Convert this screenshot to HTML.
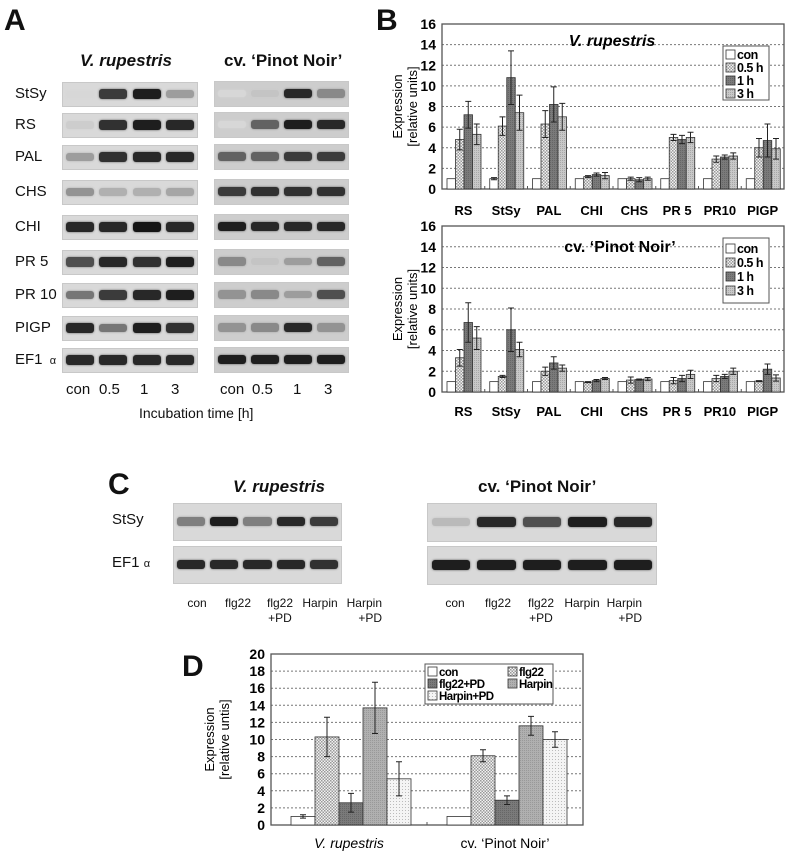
<!DOCTYPE html>
<html><head><meta charset="utf-8">
<style>
html,body{margin:0;padding:0;background:#fff;}
body{width:790px;height:856px;position:relative;overflow:hidden;font-family:"Liberation Sans",Arial,sans-serif;color:#111;}
.abs{position:absolute;}
.lbl{position:absolute;font-size:15px;}
.gel{position:absolute;background:#d9d9d9;border:1px solid #c8c8c8;}
.gel.dk{background:#cdcdcd;}
.band{position:absolute;height:6px;border-radius:3px;}
.panel{position:absolute;font-weight:bold;font-size:30px;}
.hdr{position:absolute;font-weight:bold;font-size:17px;}
</style></head>
<body>
<div class="panel" style="left:4px;top:4px;">A</div>
<div class="panel" style="left:376px;top:4px;">B</div>
<div class="panel" style="left:108px;top:468px;">C</div>
<div class="panel" style="left:182px;top:650px;">D</div>

<div class="hdr" style="left:80px;top:51px;font-style:italic;">V. rupestris</div>
<div class="hdr" style="left:224px;top:51px;">cv. ‘Pinot Noir’</div>
<div id="gelA"></div>
<div class="lbl" style="left:139px;top:405px;font-size:14px;">Incubation time [h]</div>

<div class="hdr" style="left:233px;top:477px;font-style:italic;">V. rupestris</div>
<div class="hdr" style="left:478px;top:477px;">cv. ‘Pinot Noir’</div>
<div id="gelC"></div>

<svg id="svg" class="abs" style="left:0;top:0;" width="790" height="856">
<defs>
<pattern id="pCheck" width="3" height="3" patternUnits="userSpaceOnUse"><rect width="3" height="3" fill="#f2f2f2"/><rect width="1.5" height="1.5" fill="#999"/><rect x="1.5" y="1.5" width="1.5" height="1.5" fill="#999"/></pattern>
<pattern id="pLight" width="2" height="2" patternUnits="userSpaceOnUse"><rect width="2" height="2" fill="#c8c8c8"/><rect width="1" height="1" fill="#a8a8a8"/></pattern>
<pattern id="pDark" width="2" height="2" patternUnits="userSpaceOnUse"><rect width="2" height="2" fill="#7a7a7a"/><rect width="1" height="1" fill="#666"/></pattern>
<pattern id="pMid" width="2" height="2" patternUnits="userSpaceOnUse"><rect width="2" height="2" fill="#b0b0b0"/><rect width="1" height="1" fill="#999"/></pattern>
<pattern id="pDots" width="3" height="3" patternUnits="userSpaceOnUse"><rect width="3" height="3" fill="#f4f4f4"/><rect width="1" height="1" fill="#bbb"/></pattern>
</defs>
</svg>

<script>
// ===== Panel B data =====
const genes = ["RS","StSy","PAL","CHI","CHS","PR 5","PR10","PIGP"];
const seriesB = ["con","0.5 h","1 h","3 h"];
const rupCon = [1,1,1,1,1,1,1,1];
const rup05 = [4.8,6.1,6.3,1.2,1.0,5.0,2.9,4.0];
const rup1 = [7.2,10.8,8.2,1.4,0.9,4.8,3.1,4.7];
const rup3 = [5.3,7.4,7.0,1.3,1.0,5.0,3.2,3.9];
const rupErrCon = [0,0.1,0,0,0,0,0,0];
const rupErr05 = [1.0,0.9,1.3,0.1,0.15,0.3,0.3,0.9];
const rupErr1 = [1.3,2.6,1.7,0.15,0.2,0.4,0.2,1.6];
const rupErr3 = [1.0,1.7,1.3,0.3,0.15,0.5,0.3,1.0];
const pinCon = [1,1,1,1,1,1,1,1];
const pin05 = [3.3,1.5,2.0,0.95,1.15,1.1,1.3,1.05];
const pin1 = [6.7,6.0,2.8,1.1,1.2,1.3,1.5,2.2];
const pin3 = [5.2,4.1,2.3,1.3,1.25,1.7,2.0,1.35];
const pinErrCon = [0,0,0,0,0,0,0,0];
const pinErr05 = [0.8,0.1,0.4,0.05,0.3,0.3,0.3,0.05];
const pinErr1 = [1.9,2.1,0.6,0.1,0.05,0.3,0.2,0.5];
const pinErr3 = [1.1,0.7,0.3,0.1,0.15,0.4,0.3,0.3];
const ticksB = [0,2,4,6,8,10,12,14,16];
// ===== Panel D data =====
const cultivars = ["V. rupestris","cv. ‘Pinot Noir’"];
const seriesD = ["con","flg22","flg22+PD","Harpin","Harpin+PD"];
const dCon = [1.0,1.0];
const dFlg = [10.3,8.1];
const dFlgPD = [2.6,2.9];
const dHarp = [13.7,11.6];
const dHarpPD = [5.4,10.0];
const dErrCon = [0.2,0];
const dErrFlg = [2.3,0.7];
const dErrFlgPD = [1.1,0.5];
const dErrHarp = [3.0,1.1];
const dErrHarpPD = [2.0,0.9];
const ticksD = [0,2,4,6,8,10,12,14,16,18,20];
// ===== Gel data (band intensities) =====
const gelGenes = ["StSy","RS","PAL","CHS","CHI","PR 5","PR 10","PIGP","EF1"];
const lanesA = ["con","0.5","1","3"];
const gelRup = [[0,0.8,0.95,0.3],[0.05,0.85,0.95,0.9],[0.3,0.85,0.9,0.9],[0.35,0.2,0.2,0.25],[0.9,0.9,1,0.9],[0.7,0.9,0.85,0.95],[0.5,0.8,0.9,0.95],[0.9,0.5,0.95,0.85],[0.9,0.9,0.9,0.9]];
const gelPin = [[0,0.1,0.9,0.4],[0,0.6,0.95,0.9],[0.6,0.6,0.8,0.8],[0.8,0.85,0.85,0.85],[0.95,0.9,0.9,0.9],[0.4,0.1,0.3,0.6],[0.35,0.4,0.3,0.7],[0.35,0.4,0.9,0.35],[0.95,0.95,0.95,0.95]];
const lanesC = ["con","flg22","flg22\n+PD","Harpin","Harpin\n+PD"];
const gelCRup = [[0.45,0.95,0.45,0.9,0.8],[0.9,0.9,0.9,0.9,0.85]];
const gelCPin = [[0.15,0.9,0.7,0.95,0.9],[0.95,0.95,0.95,0.95,0.95]];

const NS="http://www.w3.org/2000/svg";
const svg=document.getElementById('svg');
function mk(tag,attrs,parent){const e=document.createElementNS(NS,tag);for(const k in attrs)e.setAttribute(k,attrs[k]);(parent||svg).appendChild(e);return e;}
function txt(x,y,s,attrs){const t=mk('text',Object.assign({x:x,y:y,'font-family':'Liberation Sans, Arial, sans-serif'},attrs||{}));t.textContent=s;return t;}

// ---- gels ----
function bandColor(v){const g=Math.round(215-v*195);return 'rgb('+g+','+g+','+g+')';}
function gel(container,left,top,w,h,vals,dark,name){
  const d=document.createElement('div');d.className='gel'+(dark?' dk':'');
  d.style.left=left+'px';d.style.top=top+'px';d.style.width=w+'px';d.style.height=h+'px';
  
  
  const n=vals.length, lw=w/n;
  vals.forEach((v,i)=>{const b=document.createElement('div');b.className='band';
    b.style.left=(i*lw+lw*0.08)+'px';b.style.width=(lw*0.84)+'px';b.style.top=(h/2-4-v*1.5)+'px';b.style.height=(7+v*3)+'px';
    b.style.background=bandColor(v);b.style.boxShadow='0 0 2px '+bandColor(v*0.7);
    
    
    d.appendChild(b);});
  container.appendChild(d);
}
const gA=document.getElementById('gelA');
const rowTops=[82,113,145,180,215,250,283,316,348];
gelGenes.forEach((g,i)=>{
  const l=document.createElement('div');l.className='lbl';l.textContent=g==="EF1"?"EF1 ":g;
  if(g==="EF1"){const a=document.createElement('span');a.textContent='α';a.style.fontSize='11px';a.style.marginLeft='3px';l.appendChild(a);}
  l.style.left='15px';l.style.top=(rowTops[i]+3)+'px';
  
  
  gA.appendChild(l);
  gel(gA,62,rowTops[i],134,23,gelRup[i],false,'gel-rupestris-row');
  gel(gA,214,rowTops[i]-1,133,24,gelPin[i],true,'gel-pinot-row');
});
const laneXA=[78,111,144,175],laneXA2=[232,264,297,328];
lanesA.forEach((s,i)=>{[laneXA[i],laneXA2[i]].forEach(x=>{const l=document.createElement('div');l.className='lbl';l.textContent=s;l.style.left=(x-(s.length*4))+'px';l.style.top='381px';
  
  
  gA.appendChild(l);});});

const gC=document.getElementById('gelC');
[["StSy",503],["EF1",546]].forEach((r,i)=>{
  const l=document.createElement('div');l.className='lbl';l.textContent=r[0]==="EF1"?"EF1 ":r[0];
  if(r[0]==="EF1"){const a=document.createElement('span');a.textContent='α';a.style.fontSize='11px';l.appendChild(a);}
  l.style.left='112px';l.style.top=(r[1]+8)+'px';
  
  
  gC.appendChild(l);
  gel(gC,173,r[1],167,36,i===0?gelCRup[0]:gelCRup[1],false,'gel-c-rupestris');
  gel(gC,427,r[1],228,37,i===0?gelCPin[0]:gelCPin[1],false,'gel-c-pinot');
});
const laneC1=[197,238,280,320,362],laneC2=[455,498,541,582,622];
lanesC.forEach((s,i)=>{[laneC1[i],laneC2[i]].forEach(x=>{const l=document.createElement('div');l.className='lbl';l.style.fontSize='12px';l.style.lineHeight='15px';
  l.innerHTML=s.replace('\n','<br>');l.style.left=(x-20)+'px';l.style.width='40px';l.style.textAlign=i===4?'right':'center';l.style.top='596px';
  
  
  gC.appendChild(l);});});

// ---- bar chart function ----
function barChart(o){
  const {x0,x1,yTop,yBot,max,ticks,cats,series,errs,fills,barW,gap0,title,titleX,titleY,titleItalic,legendBox,legendItems,yTitleX,catY,name,catItalic}=o;
  const g=mk('g',{});
  const y=v=>yBot-(v/max)*(yBot-yTop);
  const groupW=(x1-x0)/cats.length;
  ticks.forEach(t=>{ if(t>0&&t<max){const l=mk('line',{x1:x0,x2:x1,y1:y(t),y2:y(t),stroke:'#777','stroke-width':1,'stroke-dasharray':'2,2'},g);}
    const tl=txt(x0-6,y(t)+5,String(t),{'font-size':14,'text-anchor':'end','font-weight':'bold'});g.appendChild(tl);
    });
  const fr=mk('rect',{x:x0,y:yTop,width:x1-x0,height:yBot-yTop,fill:'none',stroke:'#555','stroke-width':1.3},g);
  
  cats.forEach((c,ci)=>{
    const gx=x0+ci*groupW+gap0;
    series.forEach((s,si)=>{
      const v=s[ci];const bx=gx+si*barW;
      const r=mk('rect',{x:bx,y:y(v),width:barW,height:yBot-y(v),fill:fills[si],stroke:'#333','stroke-width':0.8},g);
      
      const e=errs[si][ci];
      if(e>0){const cx=bx+barW/2;
        const el=mk('path',{d:`M${cx},${y(v+e)}V${y(v-e)}M${cx-3},${y(v+e)}H${cx+3}M${cx-3},${y(v-e)}H${cx+3}`,stroke:'#222','stroke-width':1,fill:'none'},g);
        }
    });
    if(ci>0){const tk=mk('line',{x1:x0+ci*groupW,x2:x0+ci*groupW,y1:yBot,y2:yBot-3,stroke:'#555'},g);}
    const cl=txt(x0+ci*groupW+groupW/2,catY,c,{'font-size':o.catSize||13,'text-anchor':'middle','font-weight':catItalic?'normal':'bold','font-style':catItalic&&ci===0?'italic':'normal'},g);
    g.appendChild(cl);
  });
  const tt=txt(titleX,titleY,title,{'font-size':o.titleSize||16,'font-weight':'bold','font-style':titleItalic?'italic':'normal','text-anchor':'middle'});g.appendChild(tt);
  
  const ym=(yTop+yBot)/2;
  const yt=txt(0,0,'',{'font-size':13,'text-anchor':'middle',transform:`translate(${yTitleX},${ym}) rotate(-90)`});g.appendChild(yt);
  const t1=mk('tspan',{x:0,dy:-8},yt);t1.textContent='Expression';
  const t2=mk('tspan',{x:0,dy:15},yt);t2.textContent=o.yTitle2;
  
  const lb=legendBox;
  const lg=mk('g',{},g);
  mk('rect',{x:lb.x,y:lb.y,width:lb.w,height:lb.h,fill:'#fff',stroke:'#555','stroke-width':1},lg);
  legendItems.forEach((it,i)=>{
    const e=mk('g',{},lg);
    mk('rect',{x:it.x,y:it.y-9,width:9,height:9,fill:fills[i],stroke:'#333','stroke-width':0.8},e);
    const t=txt(it.x+11,it.y,it.label,{'font-size':o.legSize||14,'font-weight':'bold','letter-spacing':'-0.5'});e.appendChild(t);
  });
}
const fillsB=['#fff','url(#pCheck)','url(#pDark)','url(#pLight)'];
barChart({name:'chart-b-rupestris',x0:442,x1:784,yTop:24,yBot:189,max:16,ticks:ticksB,cats:genes,
  series:[rupCon,rup05,rup1,rup3],errs:[rupErrCon,rupErr05,rupErr1,rupErr3],fills:fillsB,barW:8.5,gap0:5,
  title:'V. rupestris',titleX:612,titleY:46,titleItalic:true,yTitleX:410,yTitle2:'[relative units]',catY:215,legSize:12.5,
  legendBox:{x:723,y:46,w:46,h:54},legendItems:seriesB.map((s,i)=>({x:726,y:59+i*13,label:s}))});
barChart({name:'chart-b-pinot',x0:442,x1:784,yTop:226,yBot:392,max:16,ticks:ticksB,cats:genes,
  series:[pinCon,pin05,pin1,pin3],errs:[pinErrCon,pinErr05,pinErr1,pinErr3],fills:fillsB,barW:8.5,gap0:5,
  title:'cv. ‘Pinot Noir’',titleX:620,titleY:252,titleItalic:false,yTitleX:410,yTitle2:'[relative units]',catY:416,legSize:12.5,
  legendBox:{x:723,y:238,w:46,h:65},legendItems:seriesB.map((s,i)=>({x:726,y:253+i*14,label:s}))});
const fillsD=['#fff','url(#pCheck)','url(#pDark)','url(#pMid)','url(#pDots)'];
barChart({name:'chart-d',x0:271,x1:583,yTop:654,yBot:825,max:20,ticks:ticksD,cats:cultivars,
  series:[dCon,dFlg,dFlgPD,dHarp,dHarpPD],errs:[dErrCon,dErrFlg,dErrFlgPD,dErrHarp,dErrHarpPD],fills:fillsD,barW:24,gap0:20,
  title:'',titleX:0,titleY:0,yTitleX:222,yTitle2:'[relative untis]',catY:848,catItalic:true,catSize:14,legSize:11.5,
  legendBox:{x:425,y:664,w:128,h:40},legendItems:seriesD.map((s,i)=>({x:428+(i%2)*80,y:676+Math.floor(i/2)*12,label:s}))});
</script>
</body></html>
